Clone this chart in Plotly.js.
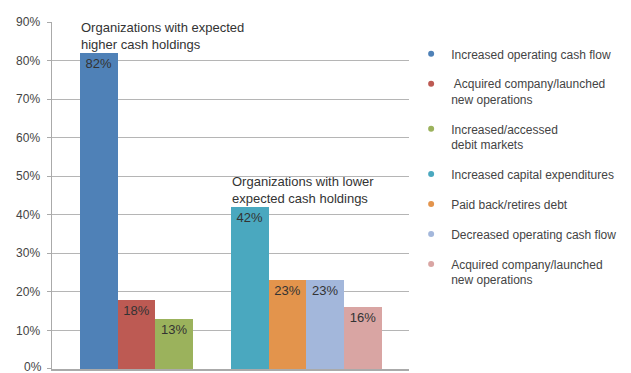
<!DOCTYPE html>
<html>
<head>
<meta charset="utf-8">
<script src="https://cdn.plot.ly/plotly-3.0.1.min.js"></script>
<style>html,body{margin:0;padding:0;background:#fff;}#chart{width:631px;height:373px;}</style>
</head>
<body>
<div id="chart"></div>
<script>
// ---- data ----
const seriesNames = [
  "Increased operating cash flow",
  " Acquired company/launched<br>new operations",
  "Increased/accessed<br>debit markets",
  "Increased capital expenditures",
  "Paid back/retires debt",
  "Decreased operating cash flow",
  "Acquired company/launched<br>new operations"
];
const seriesValues = [82, 18, 13, 42, 23, 23, 16];
const seriesGroup = [0, 0, 0, 1, 1, 1, 1];
const groupLabels = [
  "Organizations with expected<br>higher cash holdings",
  "Organizations with lower<br>expected cash holdings"
];
const seriesColors = ["#4f81b7", "#bd5a53", "#9bb25c", "#4aa8bf", "#e3944c", "#a3b7db", "#d9a5a3"];
const yTicks = [0, 10, 20, 30, 40, 50, 60, 70, 80, 90];
const subtitle = "(Percent of organizations)";

// slot position of each bar: one empty slot between groups
const slots = seriesValues.map((v, i) => i + seriesGroup[i]);

const traces = [];
seriesValues.forEach((v, i) => {
  traces.push({
    type: "bar",
    x: [slots[i]],
    y: [v],
    width: 1,
    marker: {color: seriesColors[i], line: {width: 0}},
    text: [v + "%"],
    textposition: "inside",
    insidetextanchor: "end",
    textangle: 0,
    textfont: {family: "Liberation Sans, Arial, sans-serif", size: 13, color: "#333"},
    showlegend: false,
    hoverinfo: "skip"
  });
});
seriesNames.forEach((n, i) => {
  traces.push({
    type: "scatter",
    mode: "markers",
    x: [null],
    y: [null],
    name: n,
    legendgroup: "g" + i,
    marker: {color: seriesColors[i], size: 6, symbol: "circle"},
    showlegend: true
  });
});

const annotations = [];
groupLabels.forEach((label, g) => {
  const first = seriesGroup.indexOf(g);
  annotations.push({
    xref: "x", yref: "y",
    x: slots[first] - 0.5, y: seriesValues[first],
    xanchor: "left", yanchor: "bottom", align: "left",
    xshift: -1, yshift: -1,
    text: label, showarrow: false,
    font: {family: "Liberation Sans, Arial, sans-serif", size: 13, color: "#333"}
  });
});
// bottom tick label (at the very edge of the figure, drawn as an annotation)
annotations.push({
  xref: "paper", yref: "y", x: 0, y: yTicks[0],
  xanchor: "right", yanchor: "middle", xshift: -8, yshift: 2,
  text: yTicks[0] + "%", showarrow: false,
  font: {family: "Liberation Sans, Arial, sans-serif", size: 12, color: "#444"}
});
annotations.push({
  xref: "paper", yref: "paper", x: -0.143, y: 1,
  xanchor: "left", yanchor: "bottom", yshift: 22,
  text: subtitle, showarrow: false,
  font: {family: "Liberation Sans, Arial, sans-serif", size: 14, color: "#444"}
});

const layout = {
  width: 631, height: 373,
  margin: {l: 52, r: 222, t: 22, b: 4},
  paper_bgcolor: "#fff", plot_bgcolor: "#fff",
  barmode: "overlay",
  bargap: 0,
  font: {family: "Liberation Sans, Arial, sans-serif", size: 12, color: "#444"},
  xaxis: {
    range: [-1.24, 8.22],
    showticklabels: false, showgrid: false, zeroline: false,
    showline: true, linecolor: "#aaa", linewidth: 1.5, ticks: ""
  },
  yaxis: {
    range: [-0.02, 90],
    tickvals: yTicks,
    ticktext: yTicks.map((t, i) => i === 0 ? "" : t + "%"),
    showgrid: true, gridcolor: "#b5b5b5", gridwidth: 1,
    zeroline: false,
    showline: true, linecolor: "#aaa", linewidth: 1.5,
    ticks: "outside", ticklen: 4, tickcolor: "#aaa",
    ticklabelstandoff: 4,
    tickfont: {size: 12, color: "#444"}
  },
  showlegend: true,
  legend: {
    x: 1.006, xanchor: "left", y: 0.95, yanchor: "top",
    traceorder: "grouped", tracegroupgap: 11, valign: "top",
    font: {size: 12, color: "#444"},
    bgcolor: "rgba(0,0,0,0)"
  },
  annotations: annotations
};

Plotly.newPlot("chart", traces, layout, {staticPlot: true, displayModeBar: false});
</script>
</body>
</html>
